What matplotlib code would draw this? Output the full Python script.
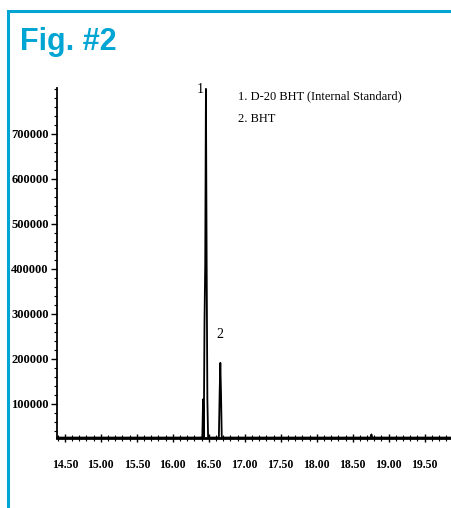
import matplotlib.pyplot as plt
from matplotlib.patches import Rectangle
from matplotlib.ticker import MultipleLocator

# chromatogram points (retention time in min, abundance)
times = [14.39, 16.38, 16.41, 16.42, 16.43, 16.44, 16.45, 16.46, 16.47, 16.48, 16.49,
         16.50, 16.51, 16.52, 16.63, 16.64, 16.65, 16.66, 16.67, 16.68, 18.75, 18.76,
         18.77, 19.88]
abundance = [25000, 25000, 26000, 110000, 26000, 280000, 410000, 800000, 410000,
             110000, 26000, 25000, 25000, 25000, 25000, 26000, 120000, 191000, 120000,
             25000, 25000, 32000, 25000, 25000]

peak_labels = ["1", "2"]
peak_times = [16.435, 16.66]
peak_heights = [785000, 240000]
legend_lines = ["1. D-20 BHT (Internal Standard)", "2. BHT"]

yticks = [100000, 200000, 300000, 400000, 500000, 600000, 700000]
xticks = [14.5, 15.0, 15.5, 16.0, 16.5, 17.0, 17.5, 18.0, 18.5, 19.0, 19.5]

blue = "#00a5d3"
serif = "Liberation Serif"

fig = plt.figure(figsize=(4.52, 5.08), dpi=100)
fig.patches.append(Rectangle((8 / 452, -0.1), 1.2, (508 - 11) / 508 + 0.1,
                             transform=fig.transFigure, fill=False,
                             edgecolor=blue, linewidth=2.2))
fig.text(20 / 452, 1 - 50 / 508, "Fig. #2", color=blue, fontsize=22,
         fontweight="bold", family="Liberation Sans", va="baseline")

ax = fig.add_axes([57 / 452, 70 / 508, 395 / 452, 350 / 508])
ax.plot(times, abundance, color="black", linewidth=1.3)
ax.set_xlim(14.39, 19.88)
ax.set_ylim(24000, 802000)

for s in ["top", "right"]:
    ax.spines[s].set_visible(False)
ax.spines["left"].set_linewidth(1.3)
ax.spines["bottom"].set_linewidth(2)

ax.set_yticks(yticks)
ax.set_yticklabels([str(v) for v in yticks], family=serif, fontsize=9,
                   fontweight="bold")
ax.yaxis.set_minor_locator(MultipleLocator(20000))
ax.set_xticks(xticks)
ax.set_xticklabels([f"{v:.2f}" for v in xticks], family=serif, fontsize=8.5,
                   fontweight="bold")
ax.xaxis.set_minor_locator(MultipleLocator(0.1))
ax.tick_params(axis="y", which="major", length=4, width=1, pad=2)
ax.tick_params(axis="y", which="minor", length=2, width=0.8)
ax.tick_params(axis="x", which="major", direction="inout", length=6, width=1, pad=12)
ax.tick_params(axis="x", which="minor", direction="inout", length=4, width=0.8)

for lab, t, h in zip(peak_labels, peak_times, peak_heights):
    ax.text(t, h, lab, family=serif, fontsize=10, ha="right" if lab == "1" else "center",
            va="bottom")

for i, line in enumerate(legend_lines):
    ax.text((238 - 57) / 395, 1 - (2 + 23 * i) / 350, line,
            transform=ax.transAxes, family=serif, fontsize=9, va="top")

fig.savefig("out.png", dpi=100)
